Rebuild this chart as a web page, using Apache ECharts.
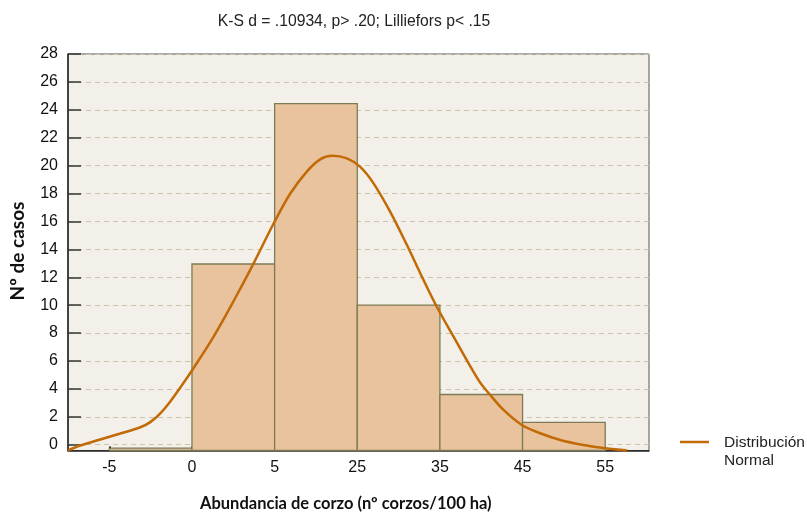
<!DOCTYPE html>
<html><head><meta charset="utf-8">
<script src="https://cdn.jsdelivr.net/npm/echarts@6/dist/echarts.min.js"></script>
<style>html,body{margin:0;padding:0;background:#fff}#c{width:807px;height:515px}</style>
</head><body><div id="c"></div>
<script>
// Tick labels of the bin edges (axis positions 0..6)
const tickLabels = ['-5', '0', '5', '25', '35', '45', '55'];
const tickPositions = [0, 1, 2, 3, 4, 5, 6];
const binStart = [0, 1, 2, 3, 4, 5];
const binEnd   = [1, 2, 3, 4, 5, 6];
const counts   = [-0.25, 12.95, 24.45, 10.0, 3.6, 1.6];
// Fitted normal curve (traced)
const curveX = [-0.5, -0.351, -0.109, 0.133, 0.375, 0.496, 0.617, 0.738, 0.859, 1.020, 1.262, 1.504, 1.746, 1.988, 2.190, 2.392, 2.552, 2.694, 2.875, 3.036, 3.197, 3.399, 3.601, 3.802, 3.964, 4.165, 4.467, 4.609, 4.770, 4.992, 5.214, 5.456, 5.737, 6.000, 6.266];
const curveY = [-0.40, -0.06, 0.37, 0.80, 1.25, 1.62, 2.25, 3.10, 4.10, 5.50, 7.75, 10.30, 13.00, 15.85, 18.00, 19.59, 20.45, 20.70, 20.52, 19.91, 18.73, 16.69, 14.31, 11.80, 9.87, 7.74, 4.63, 3.56, 2.49, 1.41, 0.82, 0.34, -0.02, -0.26, -0.42];
const yTicks = [0, 2, 4, 6, 8, 10, 12, 14, 16, 18, 20, 22, 24, 26, 28];

const Y_MIN = -0.415, Y_MAX = 28;
const chart = echarts.init(document.getElementById('c'), null, {renderer: 'canvas'});

const barData = binStart.map((s, i) => [s, binEnd[i], counts[i]]);
const lineData = curveX.map((x, i) => [x, curveY[i]]);

chart.setOption({
  animation: false,
  backgroundColor: '#ffffff',
  title: {
    text: 'K-S d = .10934, p> .20; Lilliefors p< .15',
    left: 349, top: 9, textAlign: 'center',
    textStyle: {fontFamily: 'Liberation Sans', fontSize: 15.7, fontWeight: 'normal', color: '#222'}
  },
  grid: {
    left: 68, right: 158, top: 54, bottom: 64.5,
    show: true, backgroundColor: '#f3f0e9', borderColor: '#555', borderWidth: 1
  },
  xAxis: {
    type: 'value', min: -0.5, max: 6.53,
    axisLine: {show: true, onZero: false, lineStyle: {color: '#222', width: 1.5}},
    axisTick: {show: true, inside: true, length: 4, customValues: tickPositions, lineStyle: {color: '#111', width: 2}},
    axisLabel: {
      customValues: tickPositions, margin: 9,
      formatter: v => tickLabels[Math.round(v)],
      fontFamily: 'Liberation Sans', fontSize: 16, color: '#111'
    },
    splitLine: {show: false}
  },
  yAxis: {
    type: 'value', min: Y_MIN, max: Y_MAX,
    axisLine: {show: true, onZero: false, lineStyle: {color: '#222', width: 1.5}},
    axisTick: {show: true, inside: true, length: 13, customValues: yTicks, lineStyle: {color: '#333', width: 1.5}},
    axisLabel: {
      customValues: yTicks, margin: 10,
      fontFamily: 'Liberation Sans', fontSize: 16, color: '#111',
      formatter: v => String(Math.round(v)), padding: [6, 0, 0, 0]
    },
    splitLine: {show: true, lineStyle: {color: '#c9c5ab', type: [5, 4], width: 1}}
  },
  series: [
    {
      type: 'custom',
      data: barData,
      encode: {x: [0, 1], y: 2},
      renderItem: function (params, api) {
        const p0 = api.coord([api.value(0), api.value(2)]);
        const p1 = api.coord([api.value(1), Y_MIN]);
        return {
          type: 'rect',
          shape: {x: p0[0], y: p0[1], width: p1[0] - p0[0], height: p1[1] - p0[1]},
          style: {fill: '#e8c39d', stroke: '#7d7b55', lineWidth: 1.3}
        };
      },
      z: 2
    },
    {
      type: 'line', name: 'Distribución Normal',
      data: lineData, smooth: 0.35, symbol: 'none',
      lineStyle: {color: '#c26a05', width: 2.5},
      z: 3
    }
  ],
  graphic: [
    {type: 'line', shape: {x1: 680, y1: 442, x2: 709, y2: 442}, style: {stroke: '#c26a05', lineWidth: 2.5}},
    {type: 'text', left: 724, top: 434, style: {text: 'Distribución\nNormal', font: '15.5px "Liberation Sans"', fill: '#222', lineHeight: 18}},
    {type: 'text', left: 200, top: 495, style: {text: 'Abundancia de corzo (nº corzos/100 ha)', font: 'bold 16.5px Lato', fill: '#111'}},
    {type: 'text', x: 18, y: 251, rotation: Math.PI / 2, style: {text: 'Nº de casos', font: 'bold 19px Lato', fill: '#111', align: 'center', verticalAlign: 'middle'}}
  ]
});
</script></body></html>
